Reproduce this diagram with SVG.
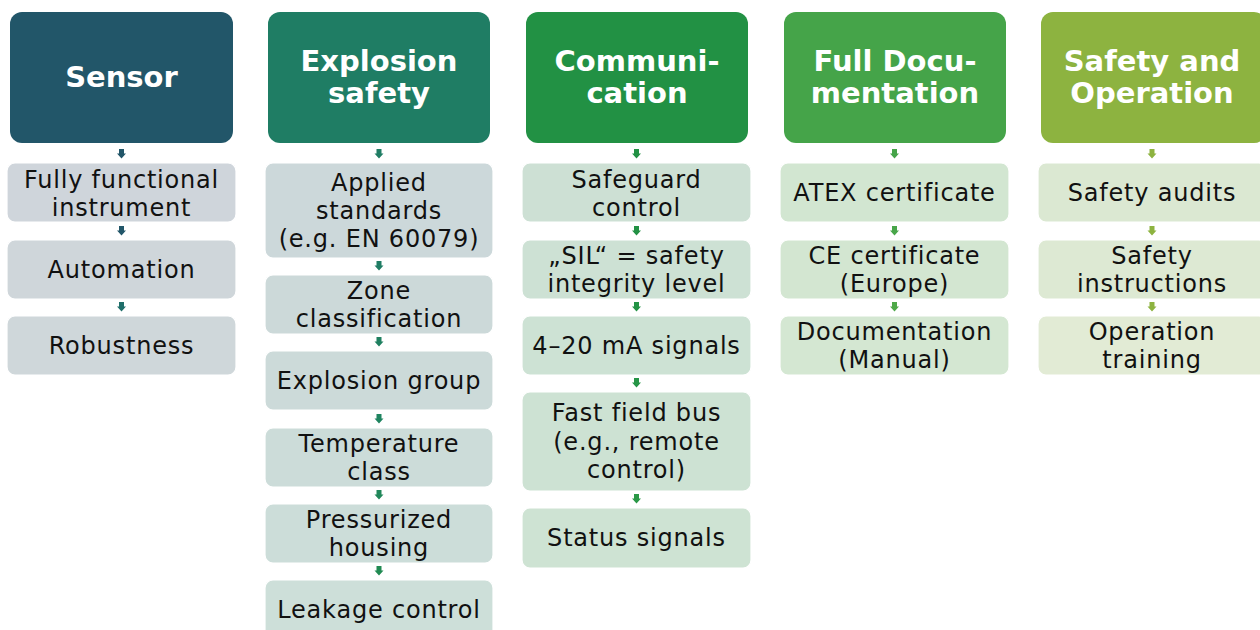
<svg xmlns="http://www.w3.org/2000/svg" width="1260" height="630" viewBox="0 0 1260 630">
<defs>
<style>
.hd{font-family:"DejaVu Sans",Verdana,sans-serif;font-weight:bold;font-size:29px;fill:#ffffff;text-anchor:middle}
.tx{font-family:"DejaVu Sans",Verdana,sans-serif;font-size:24px;letter-spacing:0.8px;fill:#111111;text-anchor:middle}
.bx{stroke:#ffffff;stroke-width:1.2}
</style>
<path id="arr" d="M-2.5,0 H2.5 V4.5 H4.5 L0,9.5 L-4.5,4.5 H-2.5 Z"/>
</defs>
<rect width="1260" height="630" fill="#ffffff"/>

<g id="col1">
<g id="sensor"><rect x="10" y="12" width="223" height="131" rx="12" fill="#225669"/><text class="hd" x="121.5" y="87">Sensor</text></g>
<g id="fully"><rect class="bx" x="7" y="163" width="229" height="59" rx="8" fill="#cfd5db"/><text class="tx" x="121.5" y="188">Fully functional</text><text class="tx" x="121.5" y="216">instrument</text></g>
<g id="automation"><rect class="bx" x="7" y="240" width="229" height="59" rx="8" fill="#cfd6da"/><text class="tx" x="121.5" y="278">Automation</text></g>
<g id="robustness"><rect class="bx" x="7" y="316" width="229" height="59" rx="8" fill="#cfd7da"/><text class="tx" x="121.5" y="354">Robustness</text></g>
</g>

<g id="col2">
<g id="explosion"><rect x="268" y="12" width="222" height="131" rx="12" fill="#1f7d64"/><text class="hd" x="379" y="71">Explosion</text><text class="hd" x="379" y="103">safety</text></g>
<g id="applied"><rect class="bx" x="265" y="163" width="228" height="95" rx="8" fill="#ccd8da"/><text class="tx" x="379" y="191">Applied</text><text class="tx" x="379" y="219">standards</text><text class="tx" x="379" y="247">(e.g. EN 60079)</text></g>
<g id="zone"><rect class="bx" x="265" y="275" width="228" height="59" rx="8" fill="#ccd9d9"/><text class="tx" x="379" y="299">Zone</text><text class="tx" x="379" y="327">classification</text></g>
<g id="exgroup"><rect class="bx" x="265" y="351" width="228" height="59" rx="8" fill="#ccdad9"/><text class="tx" x="379" y="389">Explosion group</text></g>
<g id="temp"><rect class="bx" x="265" y="428" width="228" height="59" rx="8" fill="#ccdcd9"/><text class="tx" x="379" y="452">Temperature</text><text class="tx" x="379" y="480">class</text></g>
<g id="pressurized"><rect class="bx" x="265" y="504" width="228" height="59" rx="8" fill="#ccddd9"/><text class="tx" x="379" y="528">Pressurized</text><text class="tx" x="379" y="556">housing</text></g>
<g id="leakage"><rect class="bx" x="265" y="580" width="228" height="62" rx="8" fill="#cddfd9"/><text class="tx" x="379" y="618">Leakage control</text></g>
</g>

<g id="col3">
<g id="communication"><rect x="526" y="12" width="222" height="131" rx="12" fill="#229144"/><text class="hd" x="637" y="71">Communi-</text><text class="hd" x="637" y="103">cation</text></g>
<g id="safeguard"><rect class="bx" x="522" y="163" width="229" height="59" rx="8" fill="#cde0d4"/><text class="tx" x="636.5" y="188">Safeguard</text><text class="tx" x="636.5" y="216">control</text></g>
<g id="sil"><rect class="bx" x="522" y="240" width="229" height="59" rx="8" fill="#cde1d4"/><text class="tx" x="636.5" y="264">„SIL“ = safety</text><text class="tx" x="636.5" y="292">integrity level</text></g>
<g id="ma"><rect class="bx" x="522" y="316" width="229" height="59" rx="8" fill="#cde2d4"/><text class="tx" x="636.5" y="354">4–20 mA signals</text></g>
<g id="fieldbus"><rect class="bx" x="522" y="392" width="229" height="99" rx="8" fill="#cde2d3"/><text class="tx" x="636.5" y="421">Fast field bus</text><text class="tx" x="636.5" y="450">(e.g., remote</text><text class="tx" x="636.5" y="478">control)</text></g>
<g id="status"><rect class="bx" x="522" y="508" width="229" height="60" rx="8" fill="#cee3d3"/><text class="tx" x="636.5" y="546">Status signals</text></g>
</g>

<g id="col4">
<g id="fulldoc"><rect x="784" y="12" width="222" height="131" rx="12" fill="#45a449"/><text class="hd" x="895" y="71">Full Docu-</text><text class="hd" x="895" y="103">mentation</text></g>
<g id="atex"><rect class="bx" x="780" y="163" width="229" height="59" rx="8" fill="#d2e6d1"/><text class="tx" x="894.5" y="201">ATEX certificate</text></g>
<g id="ce"><rect class="bx" x="780" y="240" width="229" height="59" rx="8" fill="#d3e6d1"/><text class="tx" x="894.5" y="264">CE certificate</text><text class="tx" x="894.5" y="292">(Europe)</text></g>
<g id="documentation"><rect class="bx" x="780" y="316" width="229" height="59" rx="8" fill="#d4e7d2"/><text class="tx" x="894.5" y="340">Documentation</text><text class="tx" x="894.5" y="368">(Manual)</text></g>
</g>

<g id="col5">
<g id="safetyop"><rect x="1041" y="12" width="225" height="131" rx="12" fill="#8db340"/><text class="hd" x="1152" y="71">Safety and</text><text class="hd" x="1152" y="103">Operation</text></g>
<g id="audits"><rect class="bx" x="1038" y="163" width="229" height="59" rx="8" fill="#dbe8d2"/><text class="tx" x="1152" y="201">Safety audits</text></g>
<g id="instructions"><rect class="bx" x="1038" y="240" width="229" height="59" rx="8" fill="#dde9d3"/><text class="tx" x="1152" y="264">Safety</text><text class="tx" x="1152" y="292">instructions</text></g>
<g id="training"><rect class="bx" x="1038" y="316" width="229" height="59" rx="8" fill="#e2ebd5"/><text class="tx" x="1152" y="340">Operation</text><text class="tx" x="1152" y="368">training</text></g>
</g>

<g id="connectors">
<use href="#arr" x="121.5" y="149" fill="#225669"/>
<use href="#arr" x="121.5" y="226" fill="#225669"/>
<use href="#arr" x="121.5" y="302" fill="#1f6e6a"/>
<use href="#arr" x="379" y="149" fill="#1f7d64"/>
<use href="#arr" x="379" y="261" fill="#1f7d64"/>
<use href="#arr" x="379" y="337" fill="#1f8060"/>
<use href="#arr" x="379" y="414" fill="#1f8460"/>
<use href="#arr" x="379" y="490" fill="#20875a"/>
<use href="#arr" x="379" y="566" fill="#208a52"/>
<use href="#arr" x="636.5" y="149" fill="#229144"/>
<use href="#arr" x="636.5" y="226" fill="#229144"/>
<use href="#arr" x="636.5" y="302" fill="#239345"/>
<use href="#arr" x="636.5" y="378" fill="#269546"/>
<use href="#arr" x="636.5" y="494" fill="#2a9846"/>
<use href="#arr" x="894.5" y="149" fill="#45a449"/>
<use href="#arr" x="894.5" y="226" fill="#48a649"/>
<use href="#arr" x="894.5" y="302" fill="#4ea848"/>
<use href="#arr" x="1152" y="149" fill="#8db340"/>
<use href="#arr" x="1152" y="226" fill="#8db340"/>
<use href="#arr" x="1152" y="302" fill="#8db340"/>
</g>
</svg>
